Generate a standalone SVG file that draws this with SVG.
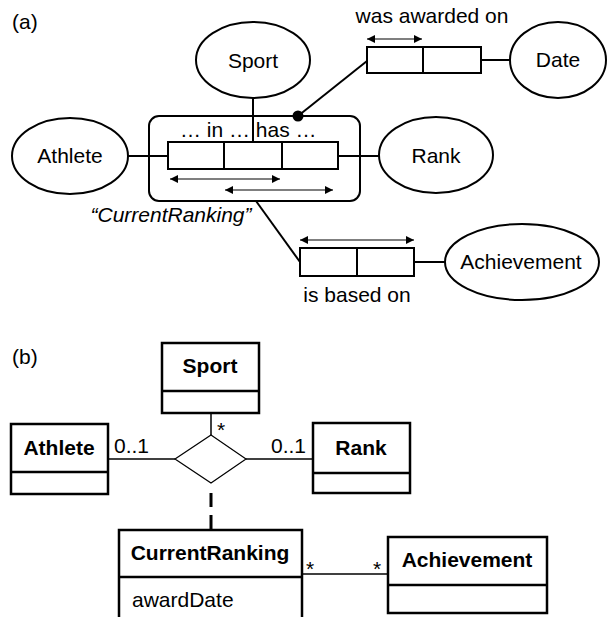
<svg xmlns="http://www.w3.org/2000/svg" width="608" height="617" viewBox="0 0 608 617">
<style>
text{font-family:"Liberation Sans",Arial,sans-serif;font-size:21px;fill:#000}
.b{font-weight:bold}
.m{text-anchor:middle}
.sh{fill:#fff;stroke:#000;stroke-width:2}
.ln{stroke:#000;stroke-width:2;fill:none}
.ar{stroke:#000;stroke-width:1.2;fill:none;marker-start:url(#ah);marker-end:url(#ah)}
.cls{fill:#fff;stroke:#000;stroke-width:2.5}
.thin{stroke:#000;stroke-width:1.5;fill:none}
</style>
<defs>
<marker id="ah" viewBox="0 0 10 10" refX="10" refY="5" markerWidth="10" markerHeight="8" markerUnits="userSpaceOnUse" orient="auto-start-reverse">
<path d="M0,0 L10,5 L0,10 z" fill="#000"/>
</marker>
</defs>
<text x="12" y="29">(a)</text>
<g id="connectors">
<line class="ln" x1="253" y1="98" x2="253" y2="142"/>
<line class="ln" x1="127" y1="156" x2="168" y2="156"/>
<line class="ln" x1="338" y1="156" x2="379" y2="156"/>
<line class="ln" x1="298" y1="116" x2="367" y2="61"/>
<circle cx="298" cy="116" r="5.5" fill="#000"/>
<line class="ln" x1="481" y1="60" x2="510" y2="60"/>
<line class="ln" x1="256" y1="201" x2="300" y2="262"/>
<line class="ln" x1="414" y1="262" x2="445" y2="262"/>
<line class="thin" x1="108" y1="459" x2="175" y2="459"/>
<line class="thin" x1="246" y1="459" x2="313" y2="459"/>
<line class="thin" x1="211" y1="413" x2="211" y2="435"/>
<line x1="211" y1="493" x2="211" y2="530" stroke="#000" stroke-width="3" stroke-dasharray="14 8"/>
<line class="thin" x1="302" y1="574" x2="388" y2="574"/>
</g>
<g id="Sport_a"><ellipse class="sh" cx="253" cy="60" rx="57" ry="38"/><text class="m" x="253" y="68">Sport</text></g>
<g id="Athlete_a"><ellipse class="sh" cx="70" cy="156" rx="58" ry="38"/><text class="m" x="70" y="163">Athlete</text></g>
<g id="Rank_a"><ellipse class="sh" cx="436" cy="155" rx="57" ry="38"/><text class="m" x="436" y="163">Rank</text></g>
<g id="Date_a"><ellipse class="sh" cx="558" cy="60" rx="48" ry="38"/><text class="m" x="558" y="67">Date</text></g>
<g id="Achievement_a"><ellipse class="sh" cx="522" cy="262" rx="77" ry="38"/><text class="m" x="521" y="269">Achievement</text></g>
<g id="CurrentRanking_a">
<rect x="149" y="116" width="211" height="85" rx="10" fill="none" stroke="#000" stroke-width="2"/>
<line class="ln" x1="253" y1="116" x2="253" y2="142"/>
<rect class="sh" x="168" y="142" width="170" height="27"/>
<line class="ln" x1="224" y1="142" x2="224" y2="169"/>
<line class="ln" x1="282" y1="142" x2="282" y2="169"/>
<text x="180" y="137">… in … has …</text>
<line class="ar" x1="170" y1="179" x2="280" y2="179"/>
<line class="ar" x1="225" y1="190" x2="333" y2="190"/>
<text class="m" x="171" y="222" font-style="italic">“CurrentRanking”</text>
</g>
<g id="awarded_a">
<rect class="sh" x="367" y="47" width="114" height="26"/>
<line class="ln" x1="423" y1="47" x2="423" y2="73"/>
<line class="ar" x1="367" y1="39" x2="422" y2="39"/>
<text class="m" x="432" y="23">was awarded on</text>
</g>
<g id="based_a">
<rect class="sh" x="300" y="248" width="114" height="28"/>
<line class="ln" x1="357" y1="248" x2="357" y2="276"/>
<line class="ar" x1="300" y1="240" x2="414" y2="240"/>
<text class="m" x="357" y="302">is based on</text>
</g>
<text x="12" y="364">(b)</text>
<g id="Sport_b"><rect class="cls" x="162" y="343" width="97" height="70"/><line class="cls" x1="162" y1="391" x2="259" y2="391"/><text class="b m" x="210" y="373">Sport</text></g>
<g id="Athlete_b"><rect class="cls" x="11" y="424" width="97" height="70"/><line class="cls" x1="11" y1="472" x2="108" y2="472"/><text class="b m" x="59" y="455">Athlete</text></g>
<g id="Rank_b"><rect class="cls" x="313" y="423" width="97" height="70"/><line class="cls" x1="313" y1="473" x2="410" y2="473"/><text class="b m" x="361" y="455">Rank</text></g>
<g id="Diamond_b">
<polygon points="211,435 246,459 211,483 175,459" fill="#fff" stroke="#000" stroke-width="1.2"/>
<text x="114" y="453">0..1</text>
<text x="306" y="453" text-anchor="end">0..1</text>
<text x="217" y="437">*</text>
</g>
<g id="CurrentRanking_b"><rect class="cls" x="119" y="530" width="183" height="95"/><line class="cls" x1="119" y1="577" x2="302" y2="577"/><text class="b m" x="210" y="560">CurrentRanking</text><text x="132" y="607">awardDate</text><text x="306" y="576">*</text></g>
<g id="Achievement_b"><rect class="cls" x="388" y="537" width="159" height="76"/><line class="cls" x1="388" y1="585" x2="547" y2="585"/><text class="b m" x="467" y="567">Achievement</text><text x="373" y="576">*</text></g>
</svg>
